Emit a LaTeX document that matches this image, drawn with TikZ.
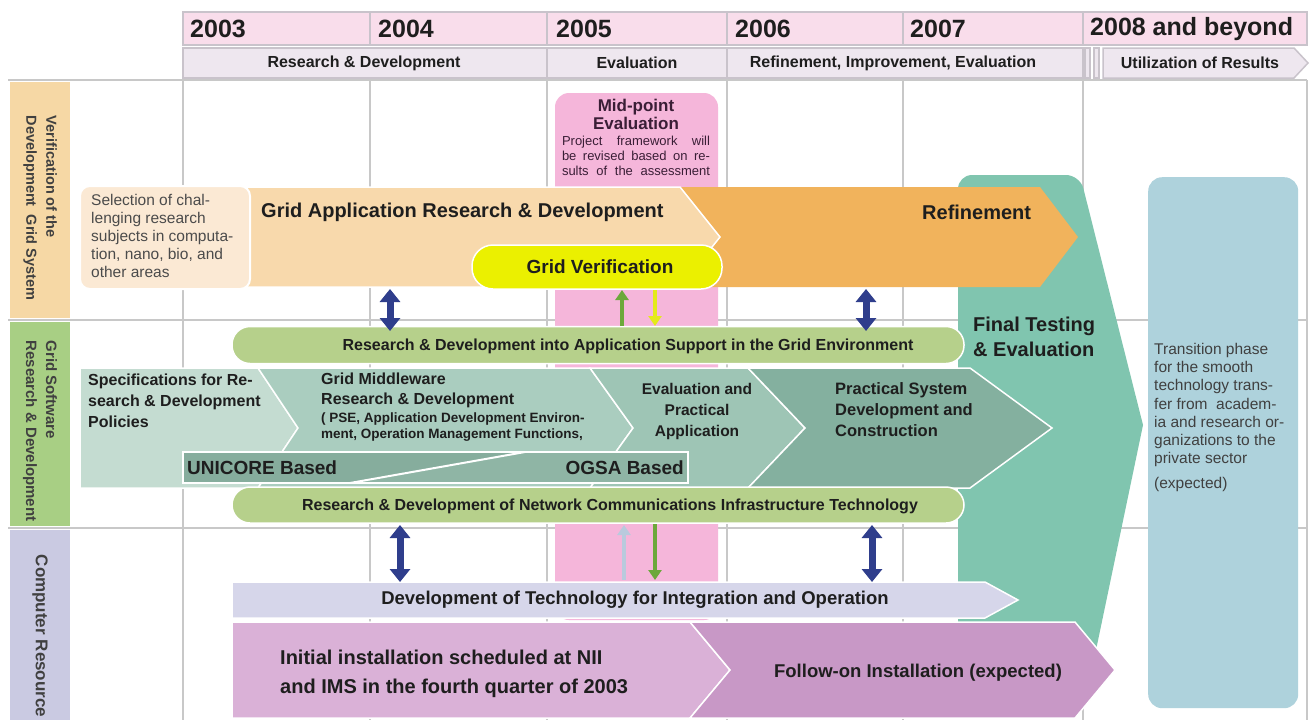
\documentclass[tikz,border=0pt]{standalone}
\usepackage{fontspec}
\setmainfont{Liberation Sans}
\usetikzlibrary{arrows.meta}
\definecolor{yearpink}{HTML}{F9DDEB}
\definecolor{phasegrey}{HTML}{EEE7EF}
\definecolor{hdrline}{HTML}{C9C3CB}
\definecolor{gridline}{HTML}{C8C8C8}
\definecolor{lblorange}{HTML}{F6D8A5}
\definecolor{lblgreen}{HTML}{A8CF84}
\definecolor{lbllav}{HTML}{CACAE2}
\definecolor{selpeach}{HTML}{FBE9D4}
\definecolor{peach}{HTML}{F8D9AC}
\definecolor{orangeR}{HTML}{F1B35C}
\definecolor{yellowV}{HTML}{EBF000}
\definecolor{pinkmid}{HTML}{F5B6DA}
\definecolor{greenpill}{HTML}{B6D08B}
\definecolor{tealA}{HTML}{C4DCD1}
\definecolor{tealB}{HTML}{AACDBF}
\definecolor{tealC}{HTML}{9EC5B5}
\definecolor{tealD}{HTML}{84B09F}
\definecolor{unicoreC}{HTML}{86AD9D}
\definecolor{ogsaC}{HTML}{8FB5A5}
\definecolor{finalteal}{HTML}{80C5AF}
\definecolor{transblue}{HTML}{AED2DC}
\definecolor{devlav}{HTML}{D6D6EA}
\definecolor{initpurple}{HTML}{DAB1D7}
\definecolor{followpurple}{HTML}{C898C6}
\definecolor{darkblue}{HTML}{2F3E8C}
\definecolor{arrowgreen}{HTML}{6CA83B}
\definecolor{arrowyellow}{HTML}{E4EA1A}
\definecolor{arrowpale}{HTML}{B9CADD}
\definecolor{txt}{HTML}{1E1E1E}
\definecolor{midtxt}{HTML}{3A1E36}
\newcommand\fsz[2]{\fontsize{#1}{#2}\selectfont}
\begin{document}
\begin{tikzpicture}[x=1pt,y=-1pt,
  lbl/.style={text=txt, inner sep=0pt},
  year/.style={lbl, anchor=west, font=\fsz{25}{28}\bfseries},
  phase/.style={lbl, font=\fsz{16}{18}\bfseries},
  hdrcell/.style={fill=phasegrey, draw=hdrline, line width=1.5pt},
  pill/.style={fill=greenpill, draw=white, line width=1.5pt, rounded corners=18pt, minimum width=732pt, minimum height=37pt, inner sep=0pt},
  pilltext/.style={lbl, font=\fsz{16}{18}\bfseries},
  shapeline/.style={draw=white, line width=1.5pt},
  rowlabel/.style={lbl, rotate=-90, align=left, text=txt!85},
  dbl/.style={line width=7pt, draw=darkblue, {Triangle[width=20pt,length=13pt]}-{Triangle[width=20pt,length=13pt]}},
  sgl/.style={line width=4pt, -{Triangle[width=13pt,length=10pt]}}
]
\useasboundingbox (0,0) rectangle (1316,723);
\fill[white] (0,0) rectangle (1316,723);

% ---------- header ----------
\fill[yearpink] (183,12) rectangle (1307,45);
\draw[hdrline, line width=1.5pt] (183,12) rectangle (1307,45);
\foreach \x in {370,547,727,903,1083} \draw[hdrline, line width=1.5pt] (\x,12) -- (\x,45);
\node[year] (y3) at (190,29) {2003};
\node[year] (y4) at (378,29) {2004};
\node[year] (y5) at (556,29) {2005};
\node[year] (y6) at (735,29) {2006};
\node[year] (y7) at (910,29) {2007};
\node[year] (y8) at (1090,29) {2008 and beyond};

\foreach \a/\b in {183/547,547/727,727/1083} \filldraw[hdrcell] (\a,48) rectangle (\b,78);
\filldraw[hdrcell] (1085,48) rectangle (1090,78);
\filldraw[hdrcell] (1094,48) rectangle (1099,78);
\filldraw[hdrcell] (1103,48) -- (1294,48) -- (1308,63) -- (1294,78) -- (1103,78) -- cycle;
\node[phase] (p1) at (364,63) {Research \& Development};
\node[phase] (p2) at (637,63) {Evaluation};
\node[phase] (p3) at (893,63) {Refinement, Improvement, Evaluation};
\node[phase] (p4) at (1200,63) {Utilization of Results};

% ---------- grid ----------
\foreach \y in {80,320,528} \draw[gridline, line width=2pt] (8,\y) -- (1307,\y);
\foreach \x in {183,370,547,727,903,1083,1307} \draw[gridline, line width=2pt] (\x,80) -- (\x,720);
\fill[lblorange] (10,82) rectangle (70,318);
\fill[lblgreen] (10,322) rectangle (70,526);
\fill[lbllav] (10,530) rectangle (70,720);
\node[rowlabel, font=\fsz{14.5}{20}\bfseries] (lab1) at (40,208) {Verification of the\\Development\ \ Grid System};
\node[rowlabel, font=\fsz{15}{20}\bfseries] (lab2) at (40,431) {Grid Software\\Research \& Development};
\node[rowlabel, font=\fsz{17}{20}\bfseries] (lab3) at (40,636) {Computer Resource};

% ---------- mid-point column ----------
\fill[pinkmid, rounded corners=14pt] (555,93) rectangle (718,620);
\node[lbl, align=center, font=\fsz{17}{18}\bfseries, text=midtxt] (midt) at (636,114) {Mid-point\\Evaluation};
\node[lbl, align=center, font=\fsz{13}{15}, text=midtxt] (midb) at (636,156)
  {\makebox[148pt][s]{Project framework will}\\\makebox[148pt][s]{be revised based on re-}\\\makebox[148pt][s]{sults of the assessment}};

% ---------- final testing ----------
\fill[finalteal] (958,650) -- (958,300) [rounded corners=14pt] -- (958,175) -- (1080,175) -- (1119,330) [sharp corners] -- (1143,425) -- (1096,650) -- cycle;
\node[lbl, anchor=west, align=left, font=\fsz{20}{25}\bfseries] (final) at (973,337) {Final Testing\\\& Evaluation};

% ---------- row 1 ----------
\fill[orangeR] (680,187) -- (1040,187) -- (1078,237) -- (1040,287) -- (680,287) -- cycle;
\filldraw[fill=peach, shapeline] (238,187) -- (680,187) -- (720,237) -- (680,287) -- (238,287) -- cycle;
\node[fill=selpeach, draw=white, line width=2pt, rounded corners=10pt, minimum width=170pt, minimum height=103pt, anchor=north west, inner sep=0pt] (selbox) at (79,185) {};
\node[lbl, anchor=west, align=left, font=\fsz{15.5}{18}, text=txt!80] (seltext) at (91,236)
  {Selection of chal-\\lenging research\\subjects in computa-\\tion, nano, bio, and\\other areas};
\node[lbl, anchor=west, font=\fsz{20}{22}\bfseries] (gapp) at (261,212) {Grid Application Research \& Development};
\node[lbl, anchor=west, font=\fsz{20}{22}\bfseries] (refine) at (922,212) {Refinement};
\node[fill=yellowV, draw=white, line width=1.5pt, rounded corners=21pt, minimum width=250pt, minimum height=44pt, inner sep=0pt] (gver) at (597,267) {};
\node[lbl, font=\fsz{19}{21}\bfseries] (gvert) at (600,267) {Grid Verification};

% ---------- row 2 ----------
\node[pill] (pill1) at (598,345) {};
\node[pilltext] (pill1t) at (628,346) {Research \& Development into Application Support in the Grid Environment};

\filldraw[fill=tealA, shapeline] (80,368) -- (258,368) -- (298,428) -- (258,488) -- (80,488) -- cycle;
\filldraw[fill=tealB, shapeline] (258,368) -- (590,368) -- (633,428) -- (590,488) -- (258,488) -- (298,428) -- cycle;
\filldraw[fill=tealC, shapeline] (590,368) -- (748,368) -- (805,428) -- (748,488) -- (590,488) -- (633,428) -- cycle;
\filldraw[fill=tealD, shapeline] (748,368) -- (970,368) -- (1052,428) -- (970,488) -- (748,488) -- (805,428) -- cycle;

\node[lbl, anchor=north west, align=left, font=\fsz{16}{21}\bfseries] (spec) at (88,374) {Specifications for Re-\\search \& Development\\Policies};
\node[lbl, anchor=north west, align=left, font=\fsz{16}{20}\bfseries] (mw1) at (321,373) {Grid Middleware\\Research \& Development};
\node[lbl, anchor=north west, align=left, font=\fsz{13.5}{16}\bfseries] (mw2) at (321,413) {( PSE, Application Development Environ-\\ment, Operation Management Functions,};
\node[lbl, align=center, font=\fsz{15.5}{21}\bfseries] (evalp) at (697,411) {Evaluation and\\Practical\\Application};
\node[lbl, anchor=west, align=left, font=\fsz{16.5}{21}\bfseries] (psys) at (835,410) {Practical System\\Development and\\Construction};

\fill[unicoreC] (183,452) -- (525,452) -- (350,483) -- (183,483) -- cycle;
\fill[ogsaC] (525,452) -- (688,452) -- (688,483) -- (350,483) -- cycle;
\draw[white, line width=2pt] (350,483) -- (525,452);
\draw[white, line width=2pt] (183,452) rectangle (688,483);
\node[lbl, anchor=west, font=\fsz{19}{21}\bfseries] (unicore) at (187,468) {UNICORE Based};
\node[lbl, anchor=east, font=\fsz{19}{21}\bfseries] (ogsa) at (684,468) {OGSA Based};

\node[pill, minimum height=36pt] (pill2) at (598,505) {};
\node[pilltext] (pill2t) at (610,506) {Research \& Development of Network Communications Infrastructure Technology};

% ---------- row 3 ----------
\filldraw[fill=devlav, shapeline] (232,582) -- (985,582) -- (1018,600) -- (985,618) -- (232,618) -- cycle;
\node[lbl, font=\fsz{18.5}{20}\bfseries] (devt) at (635,600) {Development of Technology for Integration and Operation};
\filldraw[fill=initpurple, shapeline] (232,622) -- (690,622) -- (730,670) -- (690,718) -- (232,718) -- cycle;
\filldraw[fill=followpurple, shapeline] (690,622) -- (1075,622) -- (1115,670) -- (1075,718) -- (690,718) -- (730,670) -- cycle;
\node[lbl, anchor=west, align=left, font=\fsz{20}{29}\bfseries] (init) at (280,674) {Initial installation scheduled at NII\\and IMS in the fourth quarter of 2003};
\node[lbl, font=\fsz{18.5}{20}\bfseries] (follow) at (918,673) {Follow-on Installation (expected)};

% ---------- transition ----------
\node[fill=transblue, rounded corners=14pt, minimum width=150pt, minimum height=531pt, anchor=north west, inner sep=0pt] (trans) at (1148,177) {};
\node[lbl, anchor=north west, align=left, font=\fsz{15.5}{18.2}, text=txt!85] (transt) at (1154,343)
  {Transition phase\\for the smooth\\technology trans-\\fer from\ \ academ-\\ia and research or-\\ganizations to the\\private sector\\[7pt](expected)};

% ---------- connectors ----------
\coordinate (a1t) at (390,289); \coordinate (a1b) at (390,331);
\coordinate (a4t) at (866,289); \coordinate (a4b) at (866,331);
\coordinate (g1b) at (622,326); \coordinate (g1t) at (622,290);
\coordinate (y1t) at (655,290); \coordinate (y1b) at (655,326);
\coordinate (a5t) at (400,525); \coordinate (a5b) at (400,582);
\coordinate (a8t) at (872,525); \coordinate (a8b) at (872,582);
\coordinate (p6b) at (624,580); \coordinate (p6t) at (624,525);
\coordinate (g7t) at (655,524); \coordinate (g7b) at (655,580);
\draw[dbl] (a1t) -- (a1b);
\draw[dbl] (a4t) -- (a4b);
\draw[dbl] (a5t) -- (a5b);
\draw[dbl] (a8t) -- (a8b);
\draw[sgl, arrowgreen] (g1b) -- (g1t);
\draw[sgl, arrowyellow] (y1t) -- (y1b);
\draw[sgl, arrowpale] (p6b) -- (p6t);
\draw[sgl, arrowgreen] (g7t) -- (g7b);
\end{tikzpicture}
\end{document}
